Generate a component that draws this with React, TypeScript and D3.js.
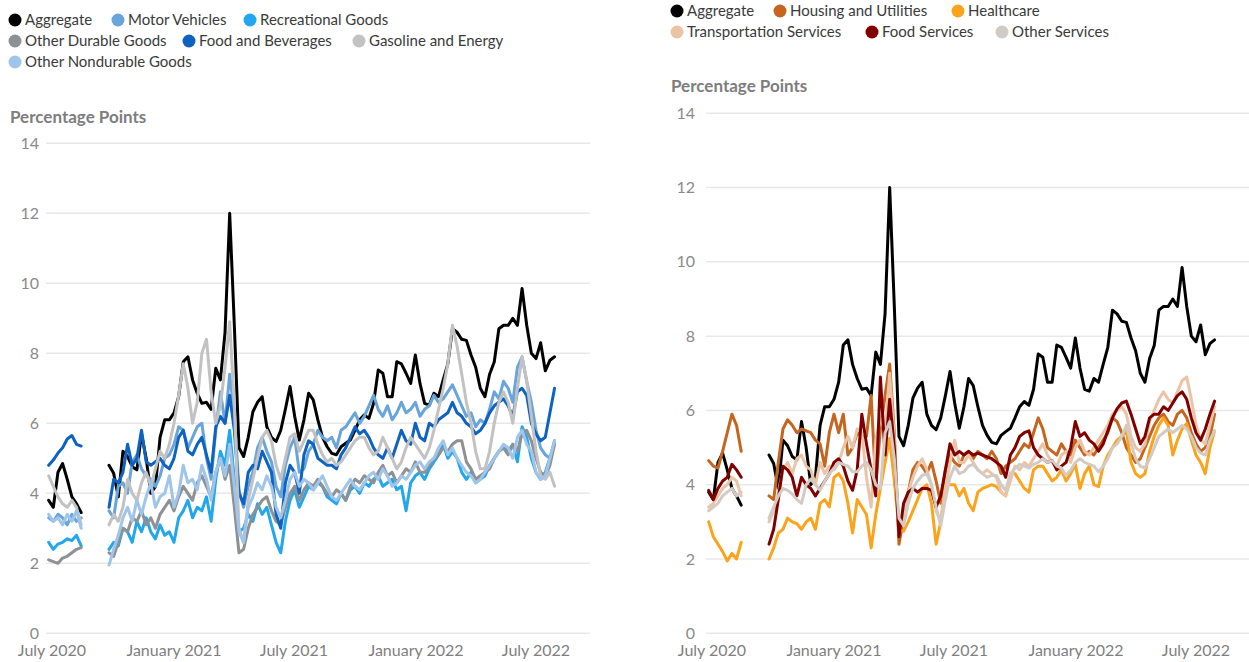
import React from 'react';
import * as d3 from 'd3';

// weekly observation dates (Fridays)
const weeks = [
  '2020-06-26', '2020-07-03', '2020-07-10', '2020-07-17', '2020-07-24', '2020-07-31', '2020-08-07', '2020-08-14',
  '2020-08-21', '2020-08-28', '2020-09-04', '2020-09-11', '2020-09-18', '2020-09-25', '2020-10-02', '2020-10-09',
  '2020-10-16', '2020-10-23', '2020-10-30', '2020-11-06', '2020-11-13', '2020-11-20', '2020-11-27', '2020-12-04',
  '2020-12-11', '2020-12-18', '2020-12-25',
  '2021-01-01', '2021-01-08', '2021-01-15', '2021-01-22', '2021-01-29', '2021-02-05', '2021-02-12', '2021-02-19',
  '2021-02-26', '2021-03-05', '2021-03-12', '2021-03-19', '2021-03-26', '2021-04-02', '2021-04-09', '2021-04-16',
  '2021-04-23', '2021-04-30', '2021-05-07', '2021-05-14', '2021-05-21', '2021-05-28', '2021-06-04', '2021-06-11',
  '2021-06-18', '2021-06-25', '2021-07-02', '2021-07-09', '2021-07-16', '2021-07-23', '2021-07-30', '2021-08-06',
  '2021-08-13', '2021-08-20', '2021-08-27', '2021-09-03', '2021-09-10', '2021-09-17', '2021-09-24', '2021-10-01',
  '2021-10-08', '2021-10-15', '2021-10-22', '2021-10-29', '2021-11-05', '2021-11-12', '2021-11-19', '2021-11-26',
  '2021-12-03', '2021-12-10', '2021-12-17', '2021-12-24', '2021-12-31',
  '2022-01-07', '2022-01-14', '2022-01-21', '2022-01-28', '2022-02-04', '2022-02-11', '2022-02-18', '2022-02-25',
  '2022-03-04', '2022-03-11', '2022-03-18', '2022-03-25', '2022-04-01', '2022-04-08', '2022-04-15', '2022-04-22',
  '2022-04-29', '2022-05-06', '2022-05-13', '2022-05-20', '2022-05-27', '2022-06-03', '2022-06-10', '2022-06-17',
  '2022-06-24', '2022-07-01', '2022-07-08', '2022-07-15', '2022-07-22', '2022-07-29',
];

const tickDates = ['2020-07-01', '2021-01-01', '2021-07-01', '2022-01-01', '2022-07-01'];
const yTicks = [0, 2, 4, 6, 8, 10, 12, 14];

const _ = null;

const aggregate = [
  3.8, 3.6, 4.6, 4.85, 4.4, 3.9, 3.7, 3.45, _, _, _, _, _,
  4.8, 4.57, 3.9, 5.2, 5.05, 4.76, 4.67,
  5.7, 5.0, 4.0, 4.2, 5.6, 6.1, 6.1, 6.3, 6.76, 7.76,
  7.9, 7.24, 6.86, 6.57, 6.6, 6.4, 7.57, 7.24, 8.6, 12.0,
  8.8, 5.3, 5.05, 5.6, 6.33, 6.6, 6.76, 5.9, 5.6, 5.48,
  5.8, 6.4, 7.05, 6.2, 5.52, 6.1, 6.86, 6.67, 6.1, 5.6,
  5.33, 5.14, 5.1, 5.33, 5.43, 5.52, 5.8, 6.1, 6.24, 6.14,
  6.57, 7.52, 7.43, 6.76, 6.76, 7.76, 7.7, 7.43, 7.14, 7.95,
  7.14, 6.57, 6.52, 6.86, 6.76, 7.24, 7.7, 8.7, 8.6, 8.4,
  8.37, 7.95, 7.6, 7.0, 6.76, 7.4, 7.75, 8.7, 8.8, 8.8,
  9.0, 8.8, 9.85, 8.8, 8.0, 7.85, 8.3, 7.5, 7.8, 7.9,
];

const motorVehicles = [
  3.3, 3.2, 3.4, 3.3, 3.1, 3.4, 3.2, 3.3, _, _, _, _, _,
  3.5, 3.3, 4.2, 4.3, 4.0, 4.9, 5.1,
  4.7, 4.5, 4.4, 4.2, 4.5, 5.0, 5.1, 5.4, 5.9, 5.8,
  5.3, 5.6, 5.9, 6.0, 5.0, 4.4, 5.8, 6.9, 6.0, 7.4,
  6.3, 4.1, 3.6, 4.2, 4.6, 5.3, 5.6, 5.2, 4.9, 4.2,
  3.9, 4.8, 5.3, 5.6, 4.6, 4.7, 5.2, 5.4, 5.8, 5.6,
  5.5, 5.6, 5.3, 5.8, 5.9, 6.1, 6.3, 6.0, 6.2, 6.5,
  6.8, 6.4, 6.2, 6.5, 6.1, 6.3, 6.6, 6.3, 6.4, 6.6,
  6.2, 6.4, 6.5, 6.8, 6.6, 6.7, 6.9, 7.1, 6.8, 6.5,
  6.2, 6.3, 5.9, 6.1, 6.0, 6.4, 6.9, 6.7, 7.2, 7.0,
  6.6, 7.6, 7.9, 7.2, 6.6, 5.8, 5.3, 5.1, 5.0, 5.4,
];

const recreationalGoods = [
  2.6, 2.4, 2.55, 2.6, 2.7, 2.65, 2.8, 2.5, _, _, _, _, _,
  2.4, 2.6, 2.5, 3.0, 2.9, 2.6, 3.2,
  2.9, 3.3, 2.9, 2.7, 3.1, 2.8, 2.9, 2.6, 3.3, 3.5,
  3.8, 3.3, 3.6, 3.5, 3.9, 3.2, 4.4, 5.2, 4.8, 5.8,
  4.4, 2.9, 3.0, 3.4, 3.2, 3.7, 3.4, 3.6, 3.1, 2.6,
  2.3, 3.2, 3.8, 4.1, 3.6, 3.9, 4.2, 4.1, 4.3, 4.2,
  3.9, 3.8, 3.7, 4.0, 3.8, 4.1, 4.2, 4.0, 4.3, 4.2,
  4.4, 4.5, 4.2, 4.3, 4.4, 4.1, 4.2, 3.5, 4.3, 4.5,
  4.6, 4.4, 4.7, 4.9, 5.1, 5.4, 5.0, 5.2, 5.0, 4.6,
  4.4, 4.6, 4.3, 4.4, 4.5, 4.8, 5.0, 5.2, 5.3, 5.2,
  5.4, 4.9, 5.9, 5.6, 5.0, 4.6, 4.4, 4.6, 5.0, 5.5,
];

const otherDurableGoods = [
  2.1, 2.05, 2.0, 2.15, 2.2, 2.3, 2.4, 2.45, _, _, _, _, _,
  2.3, 2.2, 2.6, 3.0, 2.9, 3.3, 3.2,
  3.5, 3.1, 3.3, 3.0, 3.4, 3.6, 3.8, 3.5, 3.9, 4.2,
  4.0, 3.8, 4.3, 4.5, 4.2, 3.9, 4.6, 5.0, 4.4, 4.8,
  3.6, 2.3, 2.4, 3.0, 3.4, 3.6, 3.8, 3.9, 3.5, 3.2,
  3.1, 3.6, 4.0, 4.2, 3.8, 4.1, 4.3, 4.2, 4.4, 4.2,
  4.0, 3.9, 4.1, 4.0, 3.8, 4.2, 4.4, 4.3, 4.5, 4.4,
  4.3, 4.6, 4.8, 4.5, 4.6, 4.3, 4.5, 4.7, 4.6, 4.9,
  4.6, 4.6, 4.8, 5.0, 5.1, 5.3, 5.2, 5.4, 5.5, 5.5,
  4.9, 4.7, 4.4, 4.5, 4.6, 4.7, 5.0, 5.2, 5.3, 5.1,
  5.4, 5.2, 5.7, 5.8, 5.5, 5.0, 4.6, 4.5, 4.8, 5.4,
];

const foodAndBeverages = [
  4.8, 4.95, 5.15, 5.3, 5.55, 5.65, 5.4, 5.35, _, _, _, _, _,
  3.6, 4.4, 4.3, 4.6, 5.4, 4.8, 5.0,
  5.8, 4.9, 4.8, 4.9, 5.0, 4.8, 4.7, 5.0, 5.6, 5.8,
  5.2, 5.1, 5.4, 5.6, 5.1, 4.6, 5.9, 6.2, 6.0, 6.8,
  5.8, 4.0, 3.7, 4.6, 4.8, 4.7, 5.2, 4.9, 4.6, 3.4,
  3.0, 4.3, 4.8, 4.6, 4.0, 5.1, 5.5, 5.4, 5.0, 4.9,
  4.8, 4.8, 4.7, 5.1, 5.3, 5.6, 5.9, 5.7, 5.8, 5.6,
  5.3, 5.1, 5.0, 5.3, 5.0, 5.4, 5.8, 5.5, 5.4, 6.0,
  5.6, 5.5, 6.0, 5.9, 6.1, 6.2, 6.3, 6.6, 6.3, 6.2,
  6.0, 5.9, 5.7, 5.8, 6.0, 6.3, 6.5, 6.6, 6.7, 6.5,
  6.2, 6.9, 7.0, 6.8, 6.0, 5.7, 5.5, 5.6, 6.3, 7.0,
];

const gasolineAndEnergy = [
  4.5, 4.2, 3.9, 3.7, 3.6, 3.8, 3.6, 3.1, _, _, _, _, _,
  3.1, 3.4, 3.2, 3.6, 4.4, 4.0, 3.8,
  4.3, 4.6, 4.2, 4.7, 5.2, 5.0, 5.4, 6.0, 6.8, 7.7,
  7.0, 6.0, 6.6, 8.0, 8.4, 6.9, 6.0, 6.5, 7.6, 8.9,
  6.5, 3.0, 2.6, 3.8, 4.4, 5.0, 5.6, 5.8, 5.5, 4.8,
  4.4, 5.0, 5.6, 5.7, 5.2, 5.5, 5.8, 5.8, 5.4, 5.1,
  4.9, 5.0, 4.8, 4.9, 5.1, 5.3, 5.5, 5.6, 5.6, 5.3,
  5.1, 5.2, 5.6, 5.3, 5.0, 4.7, 4.9, 5.3, 5.6, 5.4,
  5.2, 5.0, 5.3, 5.8, 6.4, 7.0, 7.7, 8.8, 8.2, 7.4,
  6.6, 6.0, 5.2, 4.7, 4.7, 5.2, 6.0, 6.6, 6.9, 6.6,
  6.0, 7.0, 7.9, 7.2, 6.2, 5.2, 4.5, 4.4, 4.6, 4.2,
];

const otherNondurableGoods = [
  3.4, 3.2, 3.3, 3.1, 3.4, 3.2, 3.5, 3.0, _, _, _, _, _,
  1.95, 2.4, 2.8, 3.3, 3.6, 3.2, 3.8,
  3.4, 3.9, 4.3, 3.6, 3.9, 4.0, 4.5, 3.6, 4.0, 4.8,
  4.3, 4.4, 4.1, 4.8, 4.4, 3.8, 4.6, 5.0, 4.5, 5.4,
  4.2, 2.9, 2.6, 3.6, 3.9, 4.3, 4.1, 4.5, 4.2, 3.6,
  3.3, 3.8, 4.4, 4.6, 4.2, 4.4, 4.3, 4.1, 4.3, 4.5,
  4.2, 3.9, 3.8, 4.0, 4.2, 4.4, 4.2, 4.1, 4.3, 4.5,
  4.6, 4.4, 4.7, 4.5, 4.2, 4.3, 4.5, 4.4, 4.6, 4.8,
  4.9, 4.7, 4.9, 5.0, 5.3, 5.5, 5.1, 5.3, 5.0, 4.8,
  4.6, 4.5, 4.3, 4.4, 4.6, 4.8, 5.0, 5.2, 5.4, 5.3,
  5.0, 5.6, 5.8, 5.4, 5.2, 4.6, 4.4, 4.5, 5.0, 5.5,
];

const housingAndUtilities = [
  4.65, 4.5, 4.45, 4.9, 5.4, 5.9, 5.6, 4.9, _, _, _, _, _,
  3.7, 3.6, 4.6, 5.5, 5.75, 5.6, 5.4,
  5.5, 5.45, 5.4, 5.2, 5.1, 4.5, 5.4, 5.9, 5.4, 5.9,
  4.8, 5.0, 5.4, 5.3, 5.3, 6.4, 4.0, 5.5, 6.4, 7.25,
  5.4, 2.4, 3.1, 3.8, 4.4, 4.6, 4.5, 4.3, 4.6, 4.1,
  3.5, 4.4, 4.8, 4.6, 4.5, 4.8, 4.9, 4.7, 4.9, 4.8,
  4.7, 4.9, 4.7, 4.3, 4.5, 4.6, 4.7, 4.9, 5.1, 5.0,
  5.4, 5.8, 5.5, 5.0, 4.9, 4.8, 5.1, 4.9, 4.8, 5.2,
  5.0, 4.8, 4.9, 4.8, 5.0, 5.2, 5.4, 5.8, 5.7, 5.4,
  5.0, 4.8, 4.6, 4.7, 5.0, 5.3, 5.6, 5.8, 5.9, 5.7,
  5.6, 5.9, 6.0, 5.8, 5.4, 5.1, 4.9, 5.0, 5.3, 5.9,
];

const healthcare = [
  3.0, 2.6, 2.4, 2.2, 1.95, 2.15, 2.0, 2.45, _, _, _, _, _,
  2.0, 2.3, 2.7, 2.8, 3.1, 3.0, 2.95,
  2.8, 3.0, 3.1, 2.8, 3.5, 3.6, 3.4, 4.2, 4.3, 4.1,
  3.5, 2.7, 3.6, 3.4, 3.2, 2.3, 3.2, 3.9, 4.6, 5.25,
  4.1, 2.8, 2.75, 3.0, 3.3, 3.6, 3.9, 4.0, 3.5, 2.4,
  3.0, 4.0, 4.0, 4.0, 3.7, 3.9, 3.5, 3.3, 3.8, 3.9,
  3.95, 4.0, 3.95, 3.8, 3.7, 4.3, 4.3, 4.1, 3.9, 3.8,
  4.4, 4.5, 4.5, 4.3, 4.1, 4.2, 4.4, 4.1, 4.3, 4.55,
  3.9, 4.3, 4.5, 4.0, 3.95, 4.5, 4.8, 5.0, 5.2, 5.3,
  5.45, 4.6, 4.3, 4.2, 4.3, 4.9, 5.3, 5.6, 5.8, 5.6,
  4.8, 5.2, 5.5, 5.65, 5.2, 4.8, 4.6, 4.3, 5.0, 5.45,
];

const transportationServices = [
  3.4, 3.5, 3.7, 3.9, 4.0, 4.2, 4.1, 3.7, _, _, _, _, _,
  3.0, 3.3, 3.8, 4.4, 4.6, 4.3, 4.7,
  4.8, 4.5, 4.4, 4.0, 4.6, 4.3, 4.5, 4.4, 4.6, 5.0,
  5.3, 5.0, 5.5, 5.4, 4.2, 3.4, 5.2, 5.8, 5.4, 7.0,
  5.2, 2.7, 3.2, 3.8, 4.2, 4.5, 4.7, 4.4, 4.0, 3.3,
  3.0, 3.9, 4.6, 5.2, 4.6, 4.6, 4.8, 4.6, 4.4, 4.3,
  4.4, 4.3, 4.2, 3.8, 3.7, 4.1, 4.5, 4.4, 4.6, 4.5,
  4.7, 4.9, 5.1, 4.8, 4.6, 4.5, 4.8, 4.9, 4.6, 5.0,
  5.2, 4.9, 4.8, 5.0, 5.2, 5.4, 5.6, 5.9, 6.0, 6.1,
  5.9, 5.3, 5.0, 4.9, 5.1, 5.7, 6.0, 6.3, 6.5, 6.3,
  6.2, 6.5, 6.8, 6.9, 6.3, 5.6, 5.2, 5.1, 5.6, 6.1,
];

const foodServices = [
  3.85, 3.6, 3.9, 4.1, 4.2, 4.55, 4.4, 4.2, _, _, _, _, _,
  2.4, 2.8, 3.6, 4.5, 4.4, 4.2, 3.7,
  4.2, 4.0, 3.9, 3.7, 3.9, 4.1, 4.3, 4.6, 4.7, 4.5,
  4.1, 3.85, 4.4, 5.9, 5.1, 4.4, 3.7, 6.9, 4.8, 6.3,
  5.0, 2.6, 3.5, 3.8, 3.9, 3.8, 3.9, 3.9, 3.85, 3.4,
  3.7, 4.4, 5.1, 4.8, 4.9, 4.8, 4.9, 4.8, 4.85, 4.8,
  4.75, 4.7, 4.6, 4.5, 4.2, 4.8, 5.0, 5.3, 5.4, 5.45,
  5.0, 4.8, 4.7, 4.6, 4.65, 4.4, 4.5, 4.6, 5.0, 5.7,
  5.3, 5.4, 5.2, 5.1, 4.9, 5.1, 5.45, 5.8, 6.05, 6.2,
  6.25, 5.9, 5.5, 5.1, 5.3, 5.8, 5.9, 5.9, 6.1, 6.0,
  6.2, 6.4, 6.5, 6.3, 5.8, 5.4, 5.2, 5.5, 5.9, 6.25,
];

const otherServices = [
  3.3, 3.4, 3.5, 3.7, 3.8, 3.9, 3.7, 3.8, _, _, _, _, _,
  3.1, 3.4, 3.7, 3.9, 3.85, 3.75, 3.6,
  3.5, 4.0, 4.15, 4.0, 3.85, 4.1, 4.3, 4.45, 4.6, 4.55,
  4.5, 4.35, 4.35, 4.5, 4.6, 4.4, 4.0, 3.9, 5.4, 5.7,
  4.7, 3.1, 2.9, 3.5, 3.9, 4.1, 4.25, 4.3, 4.0, 3.4,
  2.9, 3.6, 4.2, 4.5, 4.3, 4.35, 4.5, 4.55, 4.4, 4.3,
  4.2, 4.25, 4.25, 4.0, 3.85, 4.3, 4.45, 4.55, 4.5, 4.45,
  4.55, 4.6, 4.7, 4.6, 4.65, 4.5, 4.45, 4.25, 4.4, 4.6,
  4.7, 4.6, 4.55, 4.5, 4.35, 4.5, 4.7, 5.0, 5.1, 5.3,
  5.6, 5.1, 4.7, 4.5, 4.45, 4.7, 5.0, 5.3, 5.4, 5.5,
  5.4, 5.5, 5.6, 5.5, 5.3, 5.0, 4.85, 4.8, 5.2, 5.45,
];

const goodsSeries = [
  { name: 'Aggregate', values: aggregate },
  { name: 'Motor Vehicles', values: motorVehicles },
  { name: 'Recreational Goods', values: recreationalGoods },
  { name: 'Other Durable Goods', values: otherDurableGoods },
  { name: 'Food and Beverages', values: foodAndBeverages },
  { name: 'Gasoline and Energy', values: gasolineAndEnergy },
  { name: 'Other Nondurable Goods', values: otherNondurableGoods },
];

const servicesSeries = [
  { name: 'Aggregate', values: aggregate },
  { name: 'Housing and Utilities', values: housingAndUtilities },
  { name: 'Healthcare', values: healthcare },
  { name: 'Transportation Services', values: transportationServices },
  { name: 'Food Services', values: foodServices },
  { name: 'Other Services', values: otherServices },
];

const colors: Record<string, string> = {
  'Aggregate': '#000000',
  'Motor Vehicles': '#68a5dd',
  'Recreational Goods': '#22a7ee',
  'Other Durable Goods': '#8d9194',
  'Food and Beverages': '#0e63c0',
  'Gasoline and Energy': '#c2c2c2',
  'Other Nondurable Goods': '#a0c5ea',
  'Housing and Utilities': '#c4661f',
  'Healthcare': '#fba31b',
  'Transportation Services': '#ebc4a7',
  'Food Services': '#800000',
  'Other Services': '#d3cbc3',
};

const FONT = 'Lato, "Noto Sans", sans-serif';
const parse = d3.timeParse('%Y-%m-%d');
const fmt = d3.timeFormat('%B %Y');

type Series = { name: string; values: (number | null)[] };
type PanelProps = {
  series: Series[];
  legend: [number, number][];
  x0: number;      // pixel of July 2020
  gridLeft: number;
  gridRight: number;
  yTop: number;
  labelRight: number;
  titleX: number;
  titleY: number;
};

const yBottom = 633.3;

function Panel({ series, legend, x0, gridLeft, gridRight, yTop, labelRight, titleX, titleY }: PanelProps) {
  const x = d3.scaleTime()
    .domain([parse(tickDates[0])!, parse(tickDates[4])!])
    .range([x0, x0 + 484]);
  const y = d3.scaleLinear().domain([0, 14]).range([yBottom, yTop]);
  const dates = weeks.map(d => parse(d)!);

  const line = d3.line<number | null>()
    .defined(v => v != null)
    .x((_v, i) => x(dates[i]))
    .y(v => y(v as number));

  return (
    <g>
      {series.map((s, i) => (
        <g key={s.name}>
          <circle cx={legend[i][0]} cy={legend[i][1]} r={6.5} fill={colors[s.name]} />
          <text x={legend[i][0] + 10} y={legend[i][1]} dy="0.35em" fontSize={15} fill="#3a3a3a">{s.name}</text>
        </g>
      ))}
      <text x={titleX} y={titleY} dy="0.35em" fontSize={17} fontWeight="bold" fill="#7d7d7d">Percentage Points</text>
      {yTicks.map(t => (
        <g key={t}>
          <line x1={gridLeft} x2={gridRight} y1={y(t)} y2={y(t)} stroke="#e8e8e8" strokeWidth={1.5} />
          <text x={labelRight} y={y(t)} dy="0.35em" textAnchor="end" fontSize={16} fill="#8a8a8a">{t}</text>
        </g>
      ))}
      {tickDates.map(d => (
        <text key={d} x={x(parse(d)!)} y={650} dy="0.35em" textAnchor="middle" fontSize={16} fill="#7f7f7f">
          {fmt(parse(d)!)}
        </text>
      ))}
      {series.map(s => (
        <path key={s.name} d={line(s.values.slice(0, weeks.length)) || ''} fill="none"
          stroke={colors[s.name]} strokeWidth={3} strokeLinejoin="round" strokeLinecap="round" />
      ))}
    </g>
  );
}

export default function App() {
  return (
    <svg width={1249} height={662} style={{ position: 'absolute', left: 0, top: 0, background: '#fff' }}
      fontFamily={FONT}>
      <Panel
        series={goodsSeries}
        legend={[[15, 20], [118, 20], [250, 20], [15, 41], [189, 41], [359, 41], [15, 62]]}
        x0={52} gridLeft={46} gridRight={590} yTop={143.3}
        labelRight={39} titleX={10} titleY={117}
      />
      <Panel
        series={servicesSeries}
        legend={[[677, 11], [780, 11], [958, 11], [677, 32], [872, 32], [1002, 32]]}
        x0={712} gridLeft={706} gridRight={1249} yTop={113.3}
        labelRight={695} titleX={671} titleY={86}
      />
    </svg>
  );
}
